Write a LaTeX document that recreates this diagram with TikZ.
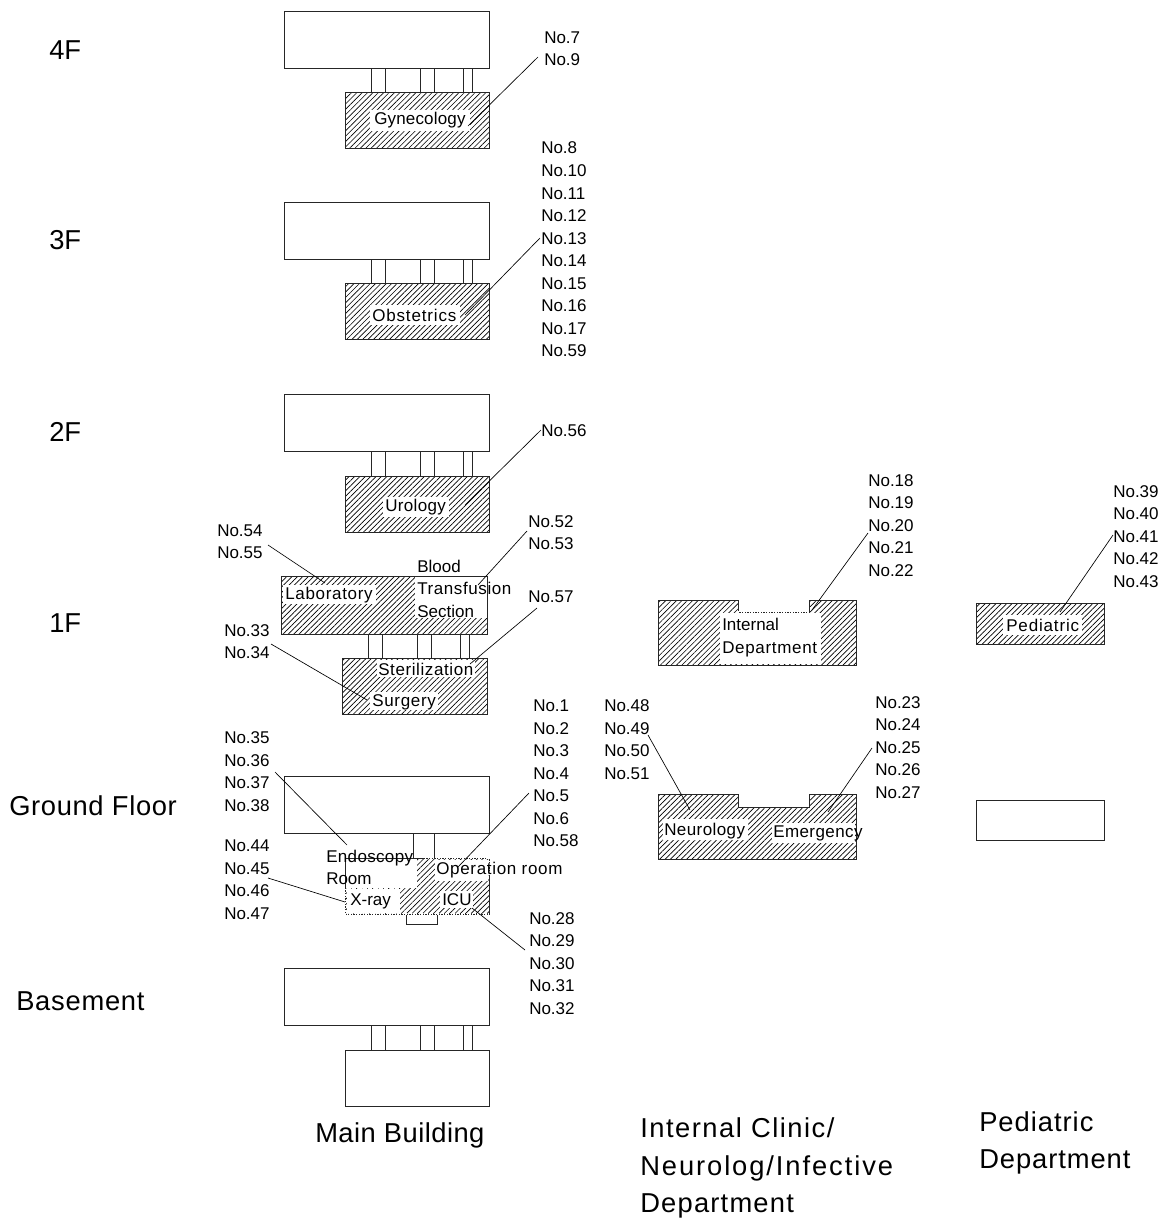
\documentclass[tikz,border=0pt]{standalone}
\usepackage{fontspec}
\setmainfont{Liberation Sans}
\usetikzlibrary{patterns.meta}
\tikzset{
  x=.75pt,y=-.75pt,
  wall/.style={draw=black!85,line width=.75pt},
  hatched/.style={wall,pattern={Lines[angle=45,distance=2.85pt,line width=.5pt]},pattern color=black},
  blank/.style={fill=white,draw=none},
  leader/.style={draw=black,line width=.5pt},
  corridor/.style={draw=black!85,line width=.6pt},
  num/.style={anchor=west,inner sep=0pt,align=left,yshift=-.4pt,font=\fontsize{12.75}{16.9}\selectfont},
  big/.style={anchor=west,inner sep=0pt,align=left,font=\fontsize{20.5}{28.1}\selectfont},
  dotfix/.style={draw=white,line width=.8pt,dash pattern=on 1pt off 1pt},
}
\newcommand{\ls}[2]{{\addfontfeature{LetterSpace=#1}#2}}
\newcommand{\wbox}[4]{\fill[blank] (#1,#2) rectangle (#3,#4);}
\newcommand{\lead}[5]{\coordinate (#1a) at (#2,#3);\coordinate (#1b) at (#4,#5);\draw[leader] (#1a) -- (#1b);}
\newcommand{\corr}[3]{\foreach \xx in {#1}{\draw[corridor] (\xx,#2) -- (\xx,#3);}}
\begin{document}
\begin{tikzpicture}
\useasboundingbox (0,0) rectangle (1166,1218);
% corridors
\corr{371,385,420,434,463,472}{68}{92}
\corr{371,385,420,434,463,472}{259}{283}
\corr{371,385,420,434,463,472}{451}{476}
\corr{368,382,417,431,460,469}{634}{658}
\corr{413,434}{833}{858}
\corr{371,385,420,434,463,472}{1025}{1050}
% main building upper blocks
\draw[wall] (284,11) rectangle (489,68);
\draw[wall] (284,202) rectangle (489,259);
\draw[wall] (284,394) rectangle (489,451);
\draw[wall] (284,776) rectangle (489,833);
\draw[wall] (284,968) rectangle (489,1025);
\draw[wall] (345,1050) rectangle (489,1106);
\draw[wall] (406,914) rectangle (437,924);
% hatched blocks
\draw[hatched] (345,92) rectangle (489,148);
\draw[hatched] (345,283) rectangle (489,339);
\draw[hatched] (345,476) rectangle (489,532);
\draw[hatched] (281,576) rectangle (487,634);
\draw[hatched] (342,658) rectangle (487,714);
\draw[hatched] (345,858) rectangle (489,914);
\draw[hatched] (658,600) -- (738,600) -- (738,612) -- (809,612) -- (809,600) -- (856,600) -- (856,665) -- (658,665) -- cycle;
\draw[hatched] (658,794) -- (738,794) -- (738,807) -- (809,807) -- (809,794) -- (856,794) -- (856,859) -- (658,859) -- cycle;
\draw[hatched] (976,603) rectangle (1104,644);
\draw[wall] (976,800) rectangle (1104,840);
% white label grounds
\wbox{370}{110}{470}{131}
\wbox{370}{305}{460}{325}
\wbox{383}{497}{449}{517}
\wbox{283}{585}{376}{604}
\wbox{415}{577}{487}{618}
\wbox{377}{660}{475}{677}
\wbox{370}{692}{438}{710}
\wbox{346}{859}{417}{888}
\wbox{435}{860}{488}{881}
\wbox{347}{889}{400}{913}
\wbox{440}{891}{473}{908}
\wbox{720}{613}{821}{664}
\wbox{663}{819}{748}{840}
\wbox{772}{823}{855}{843}
\wbox{1003}{615}{1082}{635}
\draw[wall,line width=.5pt] (415,576) -- (487,576) -- (487,618);
% dotted edges of the ground floor block and the notch above Internal Department
\draw[dotfix] (425,858) -- (489,858) -- (489,875);
\draw[dotfix] (345,889) -- (345,914) -- (489,914);
\draw[dotfix] (347,889) -- (400,889);
\draw[dotfix] (738,612) -- (809,612);
% leaders
\lead{g}{538}{57}{468}{126}
\lead{o}{540}{238}{465}{315}
\lead{u}{541}{430}{465}{505}
\lead{l}{268}{545}{325}{583}
\lead{b}{527}{531}{478}{585}
\lead{s}{537}{608}{470}{664}
\lead{y}{271}{644}{367}{700}
\lead{e}{275}{772}{347}{845}
\lead{p}{529}{793}{458}{867}
\lead{x}{268}{878}{345}{902}
\lead{i}{472}{908}{525}{950}
\lead{d}{868}{533}{812}{610}
\lead{n}{648}{735}{690}{810}
\lead{m}{872}{748}{828}{812}
\lead{q}{1113}{535}{1060}{612}
% number stacks
\node[num] (n1) at (544,48) {No.7\\No.9};
\node[num] (n2) at (541,249) {No.8\\No.10\\No.11\\No.12\\No.13\\No.14\\No.15\\No.16\\No.17\\No.59};
\node[num] (n3) at (541,430) {No.56};
\node[num] (n4) at (217,541) {No.54\\No.55};
\node[num] (n5) at (528,532) {No.52\\No.53};
\node[num] (n6) at (528,596) {No.57};
\node[num] (n7) at (224,641) {No.33\\No.34};
\node[num] (n8) at (533,773) {No.1\\No.2\\No.3\\No.4\\No.5\\No.6\\No.58};
\node[num] (n9) at (224,771) {No.35\\No.36\\No.37\\No.38};
\node[num] (n10) at (224,879) {No.44\\No.45\\No.46\\No.47};
\node[num] (n11) at (529,963) {No.28\\No.29\\No.30\\No.31\\No.32};
\node[num] (n12) at (604,739) {No.48\\No.49\\No.50\\No.51};
\node[num] (n13) at (875,747) {No.23\\No.24\\No.25\\No.26\\No.27};
\node[num] (n14) at (868,525) {No.18\\No.19\\No.20\\No.21\\No.22};
\node[num] (n15) at (1113,536) {No.39\\No.40\\No.41\\No.42\\No.43};
% room labels
\node[num] (r1) at (374,120) {\ls{1}{Gynecology}};
\node[num] (r2) at (372,315) {\ls{5}{Obstetrics}};
\node[num] (r3) at (385,507) {\ls{2}{Urology}};
\node[num] (r4) at (285,595) {\ls{4}{Laboratory}};
\node[num] (r5) at (417,588) {Blood\\\ls{3.5}{Transfusion}\\Section};
\node[num] (r6) at (378,669) {\ls{3.5}{Sterilization}};
\node[num] (r7) at (372,702) {\ls{4}{Surgery}};
\node[num] (r8) at (326,867) {\ls{2}{Endoscopy}\\Room};
\node[num] (r9) at (436,870) {\ls{4}{Operation room}};
\node[num] (r10) at (350,901) {X-ray};
\node[num] (r11) at (442,899) {ICU};
\node[num] (r12) at (722,637) {Internal\\\ls{4}{Department}};
\node[num] (r13) at (664,831) {\ls{2.5}{Neurology}};
\node[num] (r14) at (773,833) {\ls{2.5}{Emergency}};
\node[num] (r15) at (1006,625) {\ls{5}{Pediatric}};
% floors and buildings
\node[big] (f4) at (49,50) {4F};
\node[big] (f3) at (49,240) {3F};
\node[big] (f2) at (49,432) {2F};
\node[big] (f1) at (49,623) {1F};
\node[big] (f0) at (9,806) {\ls{2.4}{Ground Floor}};
\node[big] (fb) at (16,1001) {\ls{2.7}{Basement}};
\node[big] (t1) at (315,1135) {\ls{1.7}{Main Building}};
\node[big] (t2) at (640,1168) {\ls{5.5}{Internal Clinic/}\\\ls{7}{Neurolog/Infective}\\\ls{4.4}{Department}};
\node[big] (t3) at (979,1143) {\ls{3.6}{Pediatric}\\\ls{3.4}{Department}};
\end{tikzpicture}
\end{document}
